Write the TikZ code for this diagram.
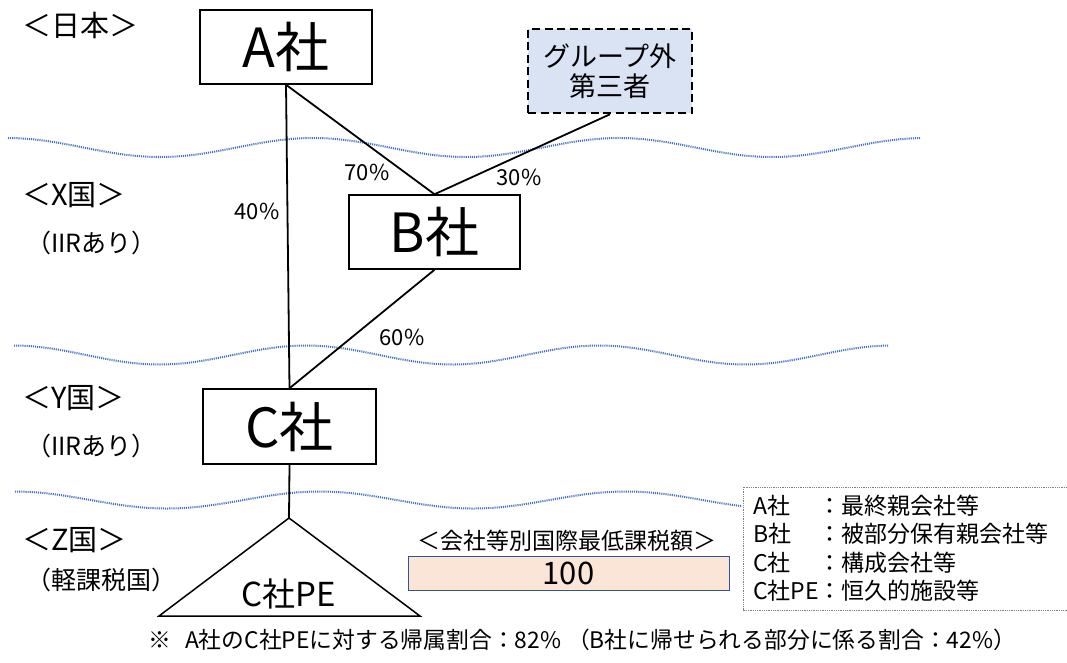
\documentclass[tikz,border=0pt]{standalone}
\usepackage{fontspec}
\setmainfont{Noto Sans CJK JP}
\newcommand\fsz[1]{\fontsize{#1pt}{#1pt}\selectfont}
\definecolor{wave}{HTML}{4472C4}
\definecolor{grpfill}{HTML}{DAE3F3}
\definecolor{taxfill}{HTML}{FBE5D6}
\definecolor{taxline}{HTML}{2F5597}
\begin{document}
\begin{tikzpicture}[x=1pt,y=-1pt,
  cobox/.style={draw=black, line width=1.5pt, fill=white, inner sep=0pt},
  conn/.style={draw=black, line width=1.8pt},
  pct/.style={font=\fsz{22}, inner sep=0pt},
  region/.style={font=\fsz{29}, inner sep=0pt, anchor=west},
  sub/.style={font=\fsz{25}, inner sep=0pt, anchor=west},
  wavy/.style={draw=wave, line width=2pt, dash pattern=on 1.1pt off 1pt}]
\useasboundingbox (0,0) rectangle (1067,662);

% wavy borders
\draw[wavy] plot[domain=8:920, samples=200] (\x, {147.5 - 9.5*cos((360/306)*(\x-313))});
\draw[wavy] plot[domain=14:888, samples=200] (\x, {355 - 9.5*cos((360/293)*(\x-306))});
\draw[wavy] plot[domain=15:742, samples=200] (\x, {500 - 8.5*cos((360/306)*(\x-320))});

% region labels
\node[region] (jp) at (22,25) {＜日本＞};
\node[region] (xk) at (22,195) {＜X国＞};
\node[sub] (xs) at (26,243) {（IIRあり）};
\node[region] (yk) at (22,398) {＜Y国＞};
\node[sub] (ys) at (26,446) {（IIRあり）};
\node[region] (zk) at (22,540) {＜Z国＞};
\node[sub] (zs) at (26,580) {（軽課税国）};

% companies
\node[cobox, minimum width=172pt, minimum height=74pt, font=\fsz{54}] (A) at (286,47) {A社};
\node[cobox, minimum width=171pt, minimum height=74pt, font=\fsz{54}] (B) at (434.5,232) {B社};
\node[cobox, minimum width=173pt, minimum height=75pt, font=\fsz{54}] (C) at (289.5,426.5) {C社};
\node[draw=black, line width=2.6pt, dash pattern=on 8pt off 4.5pt, fill=grpfill,
      minimum width=164pt, minimum height=84pt, inner sep=0pt, align=center,
      font=\fsz{27}] (G) at (610,71) {\fsz{27}グループ外\\[3pt]第三者};

% PE triangle
\coordinate (Pa) at (289,518);
\coordinate (Pl) at (159,616);
\coordinate (Pr) at (420,616);
\draw[line width=1.5pt, line join=miter] (Pa) -- (Pr) -- (Pl) -- cycle;
\node[font=\fsz{33}, inner sep=0pt] (PE) at (289,594) {C社PE};

% connectors
\draw[conn] (A.south) -- (C.north);
\draw[conn] (A.south) -- (B.north);
\draw[conn] (G.south) -- (B.north);
\draw[conn] (B.south) -- (C.north);
\draw[conn] (C.south) -- (Pa);

% percentages
\node[pct] (p40) at (257,211) {40\%};
\node[pct] (p70) at (367,172) {70\%};
\node[pct] (p30) at (519,177) {30\%};
\node[pct] (p60) at (402,337) {60\%};

% minimum tax
\node[font=\fsz{23}, inner sep=0pt] (tt) at (567,541) {＜会社等別国際最低課税額＞};
\node[draw=taxline, line width=1pt, fill=taxfill, minimum width=321pt, minimum height=34pt,
      inner sep=0pt, font=\fsz{31}] (tv) at (568.5,573) {100};

% legend
\draw[draw=gray, line width=0.8pt, densely dotted] (743,487) rectangle (1069,610);
\node[anchor=north west, inner sep=0pt, font=\fsz{23}] (leg) at (753,494)
  {\renewcommand{\arraystretch}{1.24}\begin{tabular}{@{}l@{}l@{}}
   A社 & ：最終親会社等\\
   B社 & ：被部分保有親会社等\\
   C社 & ：構成会社等\\
   C社PE & ：恒久的施設等
   \end{tabular}};

% footnote
\node[anchor=west, inner sep=0pt, font=\fsz{22.8}] (fn) at (148,640)
  {※\hspace{14pt}A社のC社PEに対する帰属割合：82\%\hspace{6pt}（B社に帰せられる部分に係る割合：42\%）};
\end{tikzpicture}
\end{document}
